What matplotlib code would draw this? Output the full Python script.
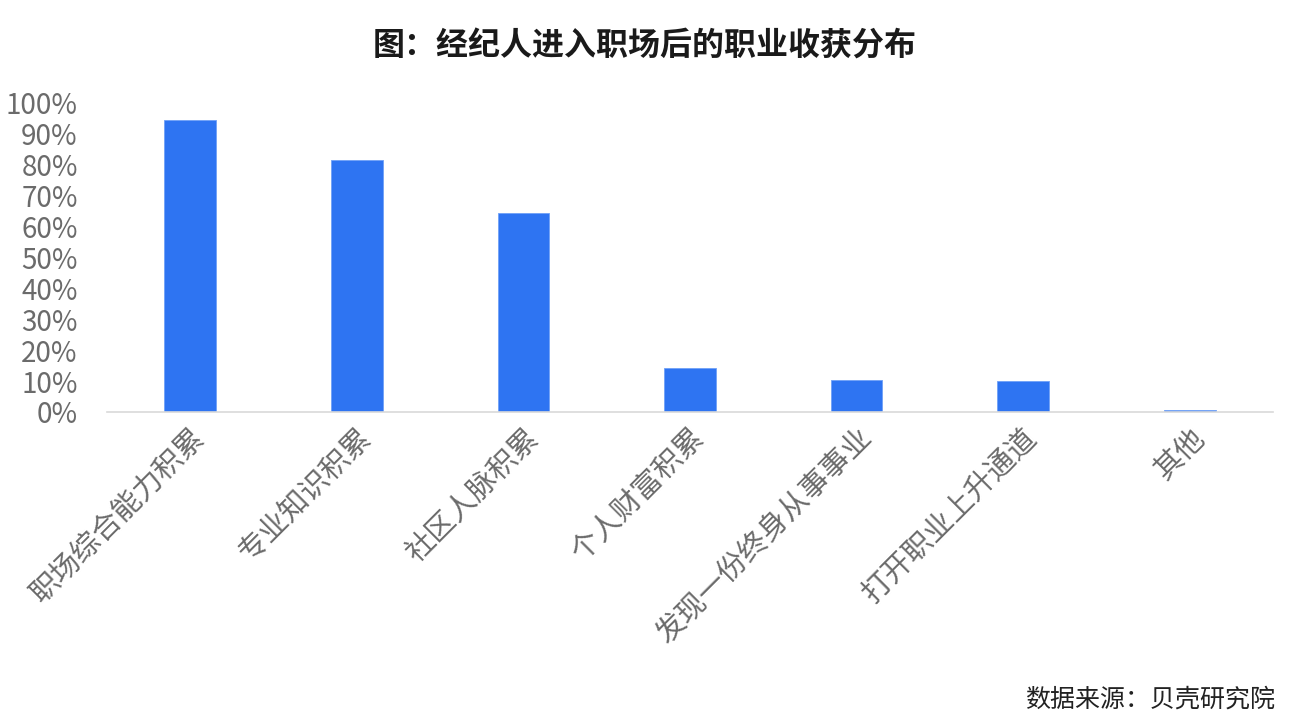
import matplotlib
matplotlib.use("Agg")
import matplotlib.pyplot as plt
from matplotlib.ticker import PercentFormatter, MultipleLocator

plt.rcParams['font.family'] = ['Noto Sans CJK SC', 'DejaVu Sans']

# ─── dados ────────────────────────────────────────────────────────────────
categories = ["职场综合能力积累", "专业知识积累", "社区人脉积累", "个人财富积累",
              "发现一份终身从事事业", "打开职业上升通道", "其他"]
values = [94.5, 81.5, 64.3, 14.2, 10.4, 10.1, 0.5]

title = "图：经纪人进入职场后的职业收获分布"
source = "数据来源：贝壳研究院"

BAR = "#2E74F2"
GRAY = "#6b6b6b"

fig = plt.figure(figsize=(12.9, 7.26), dpi=100)
ax = fig.add_axes([107 / 1290, 1 - 412 / 726, 1166 / 1290, 309 / 726])

x = range(len(categories))
ax.bar(x, values, width=0.31, color=BAR, edgecolor="#6fa0f7", linewidth=0.6)

ax.set_xlim(-0.5, len(categories) - 0.5)
ax.set_ylim(0, 100)
ax.yaxis.set_major_locator(MultipleLocator(10))
ax.yaxis.set_major_formatter(PercentFormatter(decimals=0))

for s in ["top", "right", "left"]:
    ax.spines[s].set_visible(False)
ax.spines["bottom"].set_color("#d9d9d9")
ax.spines["bottom"].set_linewidth(1.2)

ax.tick_params(axis="y", length=0, pad=21, labelsize=20, labelcolor=GRAY)
ax.tick_params(axis="x", length=0, pad=8, labelsize=21, labelcolor=GRAY)
ax.set_xticks(list(x))
ax.set_xticklabels(categories, rotation=45, ha="right", rotation_mode="anchor")

# título e fonte
fig.text(0.5, 1 - 47 / 726, title, ha="center", va="center",
         fontsize=23, fontweight="bold", color="#1a1a1a")
fig.text(1275 / 1290, 1 - 700 / 726, source, ha="right", va="center",
         fontsize=18, color="#222222")

fig.savefig("out.png", dpi=100, facecolor="white")
plt.close(fig)
